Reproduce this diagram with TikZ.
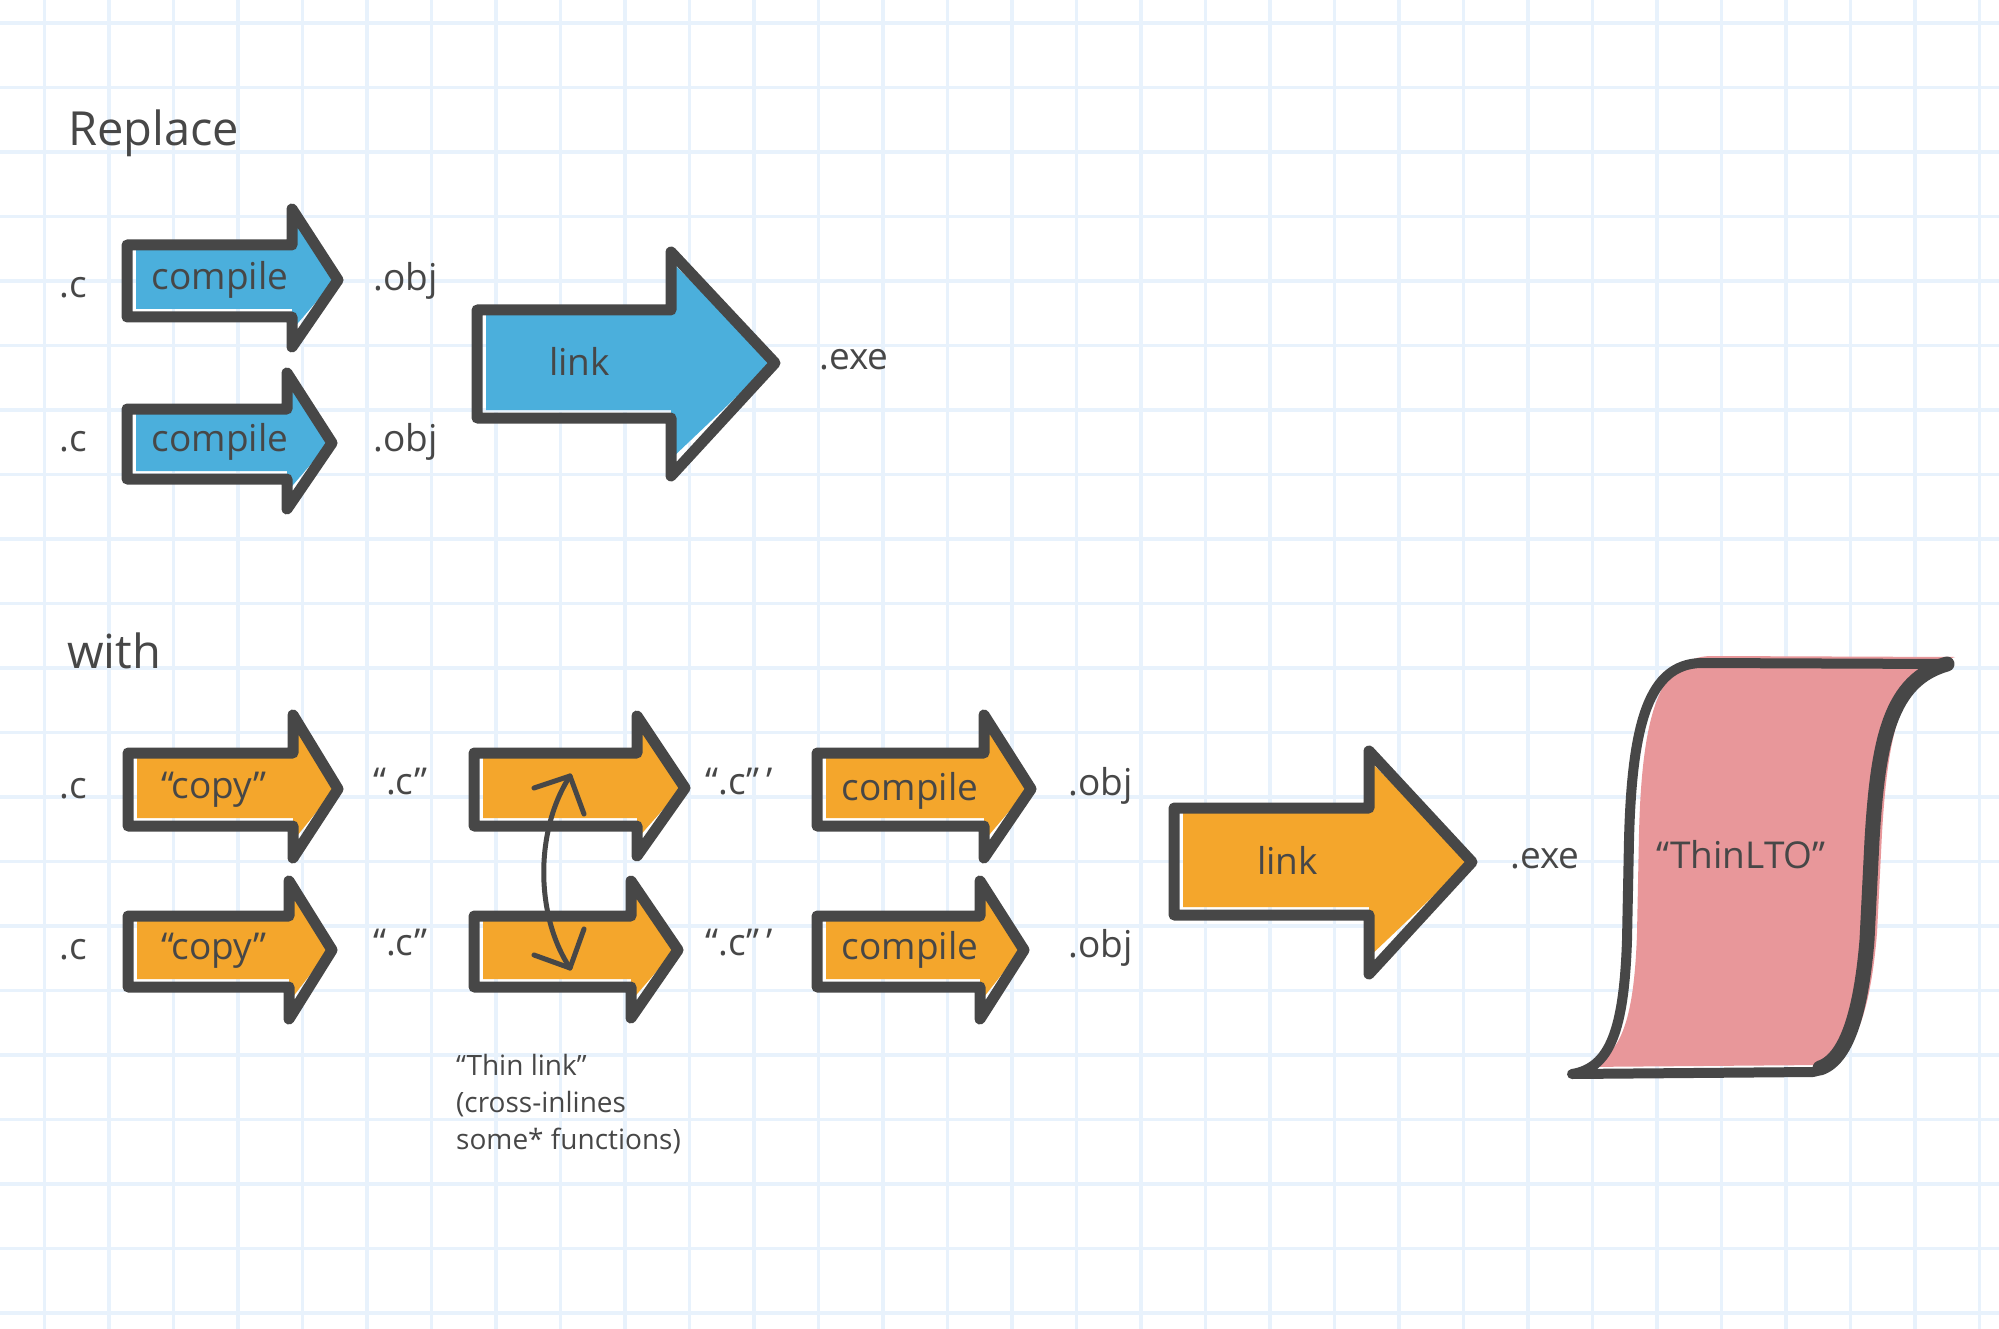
\documentclass[tikz,border=0pt]{standalone}
\usepackage{fontspec}
\setmainfont{Open Sans}
\definecolor{gridc}{HTML}{E8F2FC}
\definecolor{outc}{HTML}{474747}
\definecolor{txtc}{HTML}{474747}
\definecolor{blu}{HTML}{4BAFDC}
\definecolor{ora}{HTML}{F4A62C}
\definecolor{pnk}{HTML}{E8979A}
\tikzset{
  outl/.style={draw=outc,line width=11pt,line join=round,line cap=round},
  conn/.style={draw=outc,line width=5pt,line cap=round,line join=round},
  lbl/.style={text=txtc,inner sep=0pt,font=\fontsize{37}{44}\selectfont},
  big/.style={text=txtc,inner sep=0pt,font=\fontsize{47}{56}\selectfont},
  small/.style={text=txtc,inner sep=0pt,font=\fontsize{28}{37}\selectfont,align=left},
}
% #1 colour, #2 x0, #3 top, #4 bottom, #5 shaft end, #6 head top, #7 head bottom, #8 tip x, #9 tip y
\newcommand\skarrow[9]{%
  \fill[#1] (#2+14,#3+6) -- (#5+5,#3+6) -- (#5+5,#6+14) -- (#8-9,#9) -- (#5+5,#7-22) -- (#5+5,#4-13) -- (#2+14,#4-13) -- cycle;
  \draw[outl] (#2+5,#3+5) -- (#5+5,#3+5) -- (#5+5,#6+5) -- (#8-6,#9) -- (#5+5,#7-5) -- (#5+5,#4-5) -- (#2+5,#4-5) -- cycle;
}
\newcommand\bannerpath{(1700,663) .. controls (1650,665) and (1632,720) .. (1629,840) -- (1627,940)
  .. controls (1624,1030) and (1610,1068) .. (1572,1074) -- (1813,1072)
  .. controls (1850,1065) and (1862,1000) .. (1867,940) -- (1872,840)
  .. controls (1878,740) and (1890,680) .. (1945,664) -- cycle}
\begin{document}
\begin{tikzpicture}[x=1pt,y=-1pt]
\useasboundingbox[fill=white] (0,0) rectangle (1999,1329);
% grid
\foreach \k in {0,...,30} \draw[gridc,line width=3.5pt] (44.6+64.5*\k,0) -- (44.6+64.5*\k,1329);
\foreach \k in {0,...,20} \draw[gridc,line width=3.5pt] (0,22.8+64.5*\k) -- (1999,22.8+64.5*\k);

% titles
\node[big,anchor=base west] (replace) at (68,146) {Replace};
\node[big,anchor=base west] (with) at (67,668) {with};

% --- upper row (blue)
\skarrow{blu}{122}{240}{322}{287}{204}{352}{344}{280}
\skarrow{blu}{122}{404}{484}{282}{368}{514}{338}{443}
\skarrow{blu}{472}{305}{423}{666}{247}{481}{781}{363}
\node[lbl,anchor=base west] (c1) at (59,298) {.c};
\node[lbl,anchor=base west] (c2) at (59,451) {.c};
\node[lbl,anchor=base] (comp1) at (220,290) {compile};
\node[lbl,anchor=base] (comp2) at (220,451) {compile};
\node[lbl,anchor=base west] (obj1) at (373,291) {.obj};
\node[lbl,anchor=base west] (obj2) at (373,451) {.obj};
\node[lbl,anchor=base west] (link1) at (549,375) {link};
\node[lbl,anchor=base west] (exe1) at (819,370) {.exe};

% --- lower rows (orange)
\skarrow{ora}{123}{748}{831}{288}{710}{863}{344}{789}
\skarrow{ora}{123}{911}{992}{284}{876}{1024}{338}{950}
\skarrow{ora}{469}{748}{831}{632}{711}{861}{691}{788}
\skarrow{ora}{469}{911}{992}{626}{876}{1023}{684}{950}
\skarrow{ora}{812}{748}{831}{979}{710}{863}{1037}{789}
\skarrow{ora}{812}{911}{992}{975}{876}{1024}{1030}{950}
\skarrow{ora}{1169}{803}{920}{1364}{746}{979}{1478}{862}

\node[lbl,anchor=base west] (c3) at (59,798) {.c};
\node[lbl,anchor=base west] (c4) at (59,959) {.c};
\node[lbl,anchor=base] (copy1) at (214,798) {“copy”};
\node[lbl,anchor=base] (copy2) at (214,959) {“copy”};
\node[lbl,anchor=base west] (qc1) at (373,794) {“.c”};
\node[lbl,anchor=base west] (qc2) at (373,955) {“.c”};
\node[lbl,anchor=base west] (qcc1) at (705,794) {“.c”\hspace{7pt}’};
\node[lbl,anchor=base west] (qcc2) at (705,955) {“.c”\hspace{7pt}’};
\node[lbl,anchor=base] (comp3) at (910,800) {compile};
\node[lbl,anchor=base] (comp4) at (910,959) {compile};
\node[lbl,anchor=base west] (obj3) at (1068,795) {.obj};
\node[lbl,anchor=base west] (obj4) at (1068,957) {.obj};
\node[lbl,anchor=base west] (link2) at (1257,874) {link};
\node[lbl,anchor=base west] (exe2) at (1510,868) {.exe};

% thin link double arrow
\coordinate (ta) at (570,776);
\coordinate (tb) at (570,968);
\coordinate (ta1) at (534,788);
\coordinate (ta2) at (584,814);
\coordinate (tb1) at (534,955);
\coordinate (tb2) at (584,929);
\draw[conn] (ta) .. controls (535,830) and (535,915) .. (tb);
\draw[conn] (ta1) -- (ta) -- (ta2);
\draw[conn] (tb1) -- (tb) -- (tb2);

\node[small,anchor=base west] (thin1) at (456,1075) {“Thin link”};
\node[small,anchor=base west] (thin2) at (456,1112) {(cross-inlines};
\node[small,anchor=base west] (thin3) at (456,1149) {some* functions)};

% ThinLTO banner
\fill[pnk,shift={(10,-7)}] \bannerpath;
\draw[outl,line width=10pt] \bannerpath;
\draw[outl,line width=15pt,line cap=round] (1820,1068) .. controls (1850,1058) and (1862,1000) .. (1867,940) -- (1872,840)
  .. controls (1878,740) and (1890,680) .. (1947,664);
\node[lbl,anchor=base] (thinlto) at (1741,868) {“ThinLTO”};
\end{tikzpicture}
\end{document}
